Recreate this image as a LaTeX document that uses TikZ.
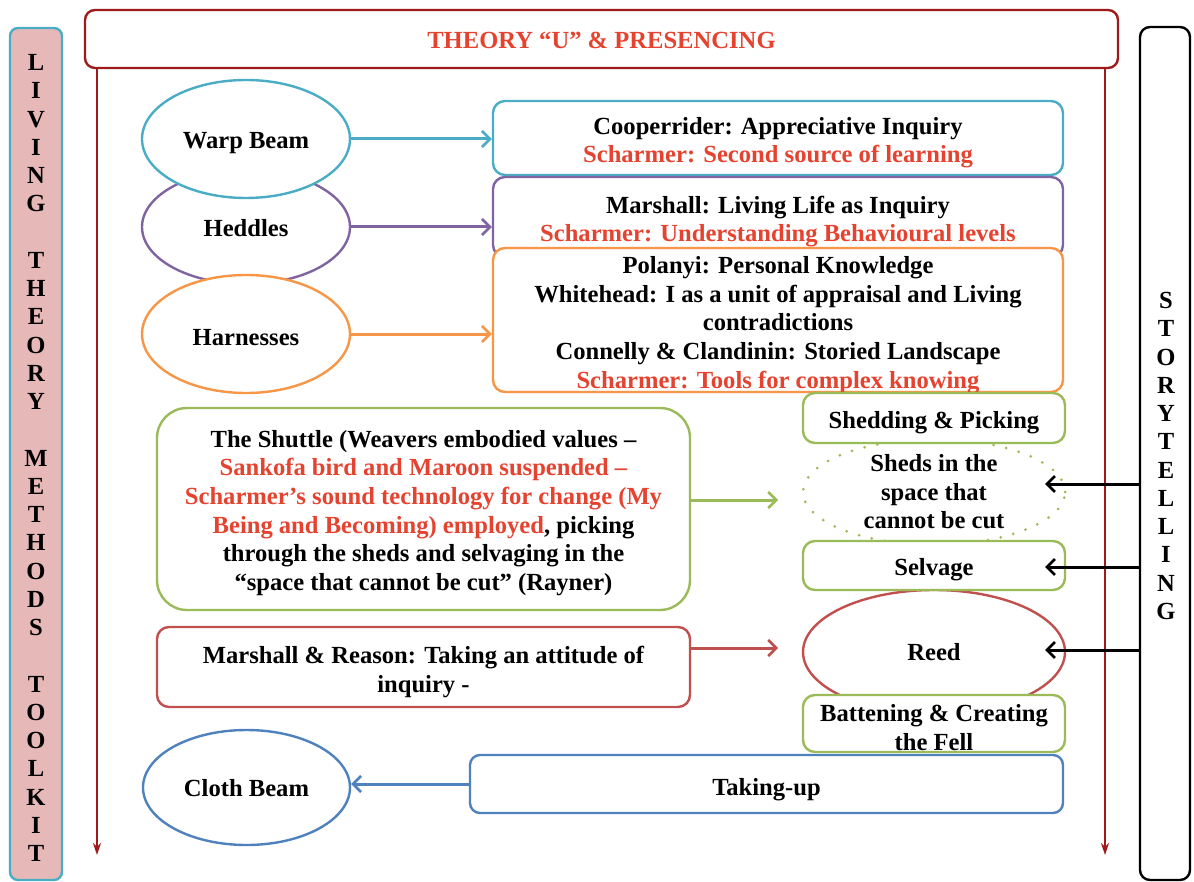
\documentclass[tikz,border=0pt]{standalone}
\usepackage{fontspec}
\setmainfont{Liberation Serif}
\usetikzlibrary{arrows.meta,shapes.geometric}
\definecolor{ccyan}{HTML}{4BACC6}
\definecolor{cpurple}{HTML}{8064A2}
\definecolor{corange}{HTML}{F79646}
\definecolor{cgreen}{HTML}{9BBB59}
\definecolor{cred}{HTML}{C0504D}
\definecolor{cblue}{HTML}{4F81BD}
\definecolor{cdark}{HTML}{9E1B1B}
\definecolor{ctext}{HTML}{E5432F}
\definecolor{cpink}{HTML}{E6B9B8}
\newcommand\myfont{\fontsize{12.3}{14.3}\selectfont\bfseries}
\newcommand\rt[1]{\textcolor{ctext}{#1}}
\newcommand\up[1]{\rule{0pt}{#1}}
\begin{document}
\begin{tikzpicture}[x=0.5pt,y=-0.5pt,
  box/.style={draw, rounded corners=6pt, line width=1.2pt, fill=white, align=center, inner sep=0pt, font=\myfont},
  ell/.style={ellipse, draw, line width=1.2pt, fill=white, inner sep=0pt, align=center, font=\myfont},
  carrow/.style={line width=1.5pt, -{Straight Barb[length=4pt,width=8pt,line width=1.3pt]}},
  barrow/.style={line width=1.5pt, black, -{Straight Barb[length=4pt,width=8pt,line width=1.4pt]}},
  darrow/.style={line width=1.1pt, cdark, -{Stealth[length=6pt,width=4pt]}},
  vletters/.style={font=\fontsize{12.3}{14.125}\selectfont\bfseries, align=center, inner sep=0pt}
]
\useasboundingbox (0,0) rectangle (1194,882);

% side boxes
\node[draw=ccyan, fill=cpink, line width=1.2pt, rounded corners=4pt, minimum width=26pt, minimum height=426pt] (living) at (36,454) {};
\node[vletters] (livtxt) at (36,458) {L\\I\\V\\I\\N\\G\\[14.125pt]T\\H\\E\\O\\R\\Y\\[14.125pt]M\\E\\T\\H\\O\\D\\S\\[14.125pt]T\\O\\O\\L\\K\\I\\T};
\node[draw=black, fill=white, line width=1.2pt, rounded corners=5pt, minimum width=25pt, minimum height=426.5pt] (story) at (1165,453.5) {};
\node[vletters] (storytxt) at (1166,456) {S\\T\\O\\R\\Y\\T\\E\\L\\L\\I\\N\\G};

% top box
\node[box, draw=cdark, rounded corners=5pt, minimum width=516.5pt, minimum height=29pt] (top) at (601.5,39) {\textcolor{ctext}{\up{9.4pt}THEORY “U” \& PRESENCING}};

% vertical dark red arrows
\coordinate (lend) at (97,855);
\coordinate (rend) at (1105,855);
\draw[darrow] (top.south -| lend) -- (lend);
\draw[darrow] (top.south -| rend) -- (rend);

% ellipses left
\node[ell, draw=cpurple, minimum width=104pt, minimum height=57pt] (heddles) at (246,227) {\up{9.4pt}Heddles};
\node[ell, draw=ccyan, minimum width=104pt, minimum height=59pt] (warp) at (246,139) {\up{12.4pt}Warp Beam};
\node[ell, draw=corange, minimum width=104pt, minimum height=59pt] (harness) at (246,334) {\up{11.4pt}Harnesses};

% right boxes top
\node[box, draw=ccyan, minimum width=285pt, minimum height=37pt] (coop) at (778,138) {\up{13.4pt}Cooperrider: Appreciative Inquiry\\\rt{Scharmer: Second source of learning}};
\node[box, draw=cpurple, minimum width=285pt, minimum height=40pt] (marsh) at (778,217) {};
\node[box, draw=corange, minimum width=285pt, minimum height=72pt] (polanyi) at (778,320) {};
\node[font=\myfont, align=center, inner sep=0pt] (marshtxt) at (778,220) {\up{10.4pt}Marshall: Living Life as Inquiry\\\rt{Scharmer: Understanding Behavioural levels}};
\node[font=\myfont, align=center, inner sep=0pt] (polanyitxt) at (778,325) {Polanyi: Personal Knowledge\\Whitehead: I as a unit of appraisal and Living\\contradictions\\Connelly \& Clandinin: Storied Landscape\\\rt{Scharmer: Tools for complex knowing}};

\draw[carrow, ccyan] (warp.east) -- (warp.east -| coop.west);
\draw[carrow, cpurple] (heddles.east) -- (heddles.east -| marsh.west);
\draw[carrow, corange] (harness.east) -- (harness.east -| polanyi.west);

% shuttle
\node[box, draw=cgreen, rounded corners=15pt, minimum width=266.5pt, minimum height=101pt] (shuttle) at (423.5,509) {\up{12.4pt}The Shuttle (Weavers embodied values –\\\rt{Sankofa bird and Maroon suspended –}\\\rt{Scharmer’s sound technology for change (My}\\\rt{Being and Becoming) employed}, picking\\through the sheds and selvaging in the\\“space that cannot be cut” (Rayner)};

% right column
\node[ell, draw=cgreen, dash pattern=on 0pt off 6.5pt, line cap=round, line width=1.5pt, minimum width=131pt, minimum height=48pt] (sheds) at (934,492) {Sheds in the\\space that\\cannot be cut};
\node[ell, draw=cred, minimum width=131pt, minimum height=62pt] (reed) at (934,652) {Reed};
\node[box, draw=cgreen, minimum width=131pt, minimum height=25pt] (shed) at (934,418) {\up{13.4pt}Shedding \& Picking};
\node[box, draw=cgreen, minimum width=131pt, minimum height=24.5pt] (selv) at (934,565.5) {\up{12.4pt}Selvage};
\node[box, draw=cgreen, minimum width=131pt, minimum height=28.5pt] (batt) at (934,723.5) {\up{12.4pt}Battening \& Creating\\the Fell};

% Marshall & Reason
\node[box, draw=cred, minimum width=266.5pt, minimum height=40pt] (reason) at (423.5,667) {\up{13.4pt}Marshall \& Reason: Taking an attitude of\\inquiry -};

% bottom
\node[ell, draw=cblue, minimum width=103.5pt, minimum height=57.5pt] (cloth) at (246.5,787.5) {\up{9.4pt}Cloth Beam};
\node[box, draw=cblue, rounded corners=5pt, minimum width=296.5pt, minimum height=29pt] (taking) at (766.5,784) {\up{14.4pt}Taking-up};

% coloured arrows
\coordinate (shend) at (778,500);
\coordinate (rsend) at (778,648);
\draw[carrow, cgreen] (shuttle.east |- shend) -- (shend);
\draw[carrow, cred] (reason.east |- rsend) -- (rsend);
\draw[carrow, cblue] (taking.west) -- (taking.west -| cloth.east);

% storytelling arrows
\coordinate (t1) at (1045,484);
\coordinate (t2) at (1045,567);
\coordinate (t3) at (1045,650);
\draw[barrow] (story.west |- t1) -- (t1);
\draw[barrow] (story.west |- t2) -- (t2);
\draw[barrow] (story.west |- t3) -- (t3);
\end{tikzpicture}
\end{document}
